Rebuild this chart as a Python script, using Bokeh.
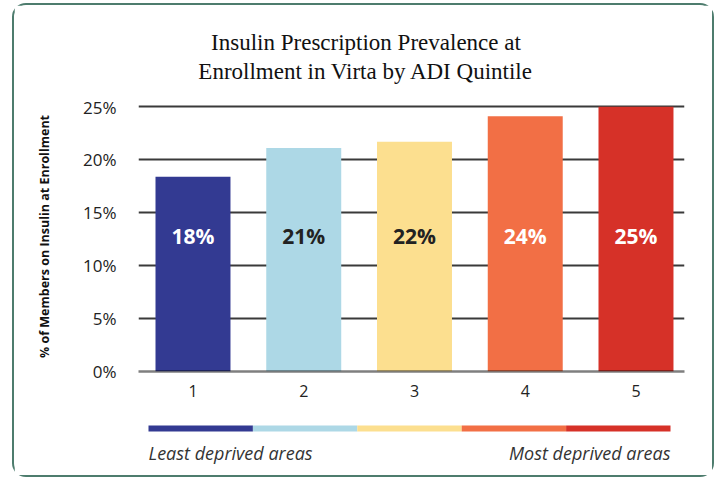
from bokeh.plotting import figure
from bokeh.models import Range1d, FixedTicker, ColumnDataSource
from bokeh.layouts import column
from bokeh.core.properties import value
from bokeh.embed import file_html
from bokeh.resources import INLINE

# ---- data ----
QUINTILES = [1, 2, 3, 4, 5]
PREVALENCE = [18.4, 21.1, 21.7, 24.1, 25.0]
BAR_LABELS = ["18%", "21%", "22%", "24%", "25%"]
BAR_COLORS = ["#333a92", "#add8e6", "#fcdf8f", "#f26f45", "#d63128"]
LABEL_COLORS = ["#ffffff", "#222222", "#222222", "#ffffff", "#ffffff"]
Y_TICKS = [0, 5, 10, 15, 20, 25]
Y_TICK_LABELS = ["0%", "5%", "10%", "15%", "20%", "25%"]
X_TICK_LABELS = ["1", "2", "3", "4", "5"]
TITLE_LINES = ["Insulin Prescription Prevalence at", "Enrollment in Virta by ADI Quintile"]
Y_LABEL = "% of Members on Insulin at Enrollment"
LEGEND_LEFT = "Least deprived areas"
LEGEND_RIGHT = "Most deprived areas"

SANS = "Open Sans"
SERIF = "Liberation Serif"
LABEL_Y = 12.8
W = 698

# strip/title ranges share the main plot's aligned frame (546 px wide)
STRIP_X = Range1d(-0.0958, 5.134)


def blank(height, y_end):
    f = figure(width=W, height=height, output_backend="svg", toolbar_location=None,
               x_range=STRIP_X, y_range=Range1d(y_end, 0),
               min_border=0, min_border_left=0, min_border_right=0,
               min_border_top=0, min_border_bottom=0)
    f.axis.visible = False
    f.grid.visible = False
    f.outline_line_color = None
    return f


# ---- title ----
head = blank(90, 90)
head.text(x=[2.083, 2.083], y=[36.7, 65.5], text=TITLE_LINES, text_align="center",
          text_baseline="alphabetic", text_font=value(SERIF), text_font_size="23px",
          text_color="#111111")

# ---- main chart ----
p = figure(width=W, height=310, output_backend="svg", toolbar_location=None,
           x_range=Range1d(0.508, 5.438), y_range=Range1d(0, 25.5),
           min_border_left=124, min_border_right=28, min_border_top=6, min_border_bottom=34)
p.outline_line_color = None
p.background_fill_color = "white"
p.border_fill_color = "white"

src = ColumnDataSource(dict(x=QUINTILES, top=PREVALENCE, color=BAR_COLORS,
                            label=BAR_LABELS, lcolor=LABEL_COLORS,
                            ly=[LABEL_Y] * len(QUINTILES)))
p.vbar(x="x", top="top", width=0.677, fill_color="color", line_color=None, source=src)
p.text(x="x", y="ly", text="label", text_color="lcolor", text_align="center",
       text_baseline="middle", text_font=value(SANS), text_font_style="bold",
       text_font_size="21px", source=src)

p.yaxis.ticker = FixedTicker(ticks=Y_TICKS)
p.yaxis.major_label_overrides = {t: l for t, l in zip(Y_TICKS, Y_TICK_LABELS)}
p.yaxis.axis_line_color = None
p.yaxis.major_tick_line_color = None
p.yaxis.minor_tick_line_color = None
p.yaxis.major_label_standoff = 16
p.yaxis.major_label_text_font = SANS
p.yaxis.major_label_text_font_size = "17px"
p.yaxis.major_label_text_color = "#222222"
p.yaxis.axis_label = Y_LABEL
p.yaxis.axis_label_text_font = SANS
p.yaxis.axis_label_text_font_style = "bold"
p.yaxis.axis_label_text_font_size = "12.5px"
p.yaxis.axis_label_text_color = "#111111"
p.yaxis.axis_label_standoff = 27

p.xaxis.ticker = FixedTicker(ticks=QUINTILES)
p.xaxis.major_label_overrides = {q: l for q, l in zip(QUINTILES, X_TICK_LABELS)}
p.xaxis.axis_line_color = "black"
p.xaxis.axis_line_alpha = 0.5
p.xaxis.axis_line_width = 2.5
p.xaxis.major_tick_line_color = None
p.xaxis.minor_tick_line_color = None
p.xaxis.major_label_standoff = 7
p.xaxis.major_label_text_font = SANS
p.xaxis.major_label_text_font_size = "16px"
p.xaxis.major_label_text_color = "#222222"

p.xgrid.grid_line_color = None
p.ygrid.ticker = FixedTicker(ticks=Y_TICKS[1:])
p.ygrid.grid_line_color = "#3a3a3a"
p.ygrid.grid_line_width = 2

# ---- colour strip legend ----
leg = blank(70, 70)
lsrc = ColumnDataSource(dict(left=[q - 1 for q in QUINTILES], right=QUINTILES, color=BAR_COLORS))
leg.quad(left="left", right="right", top=20, bottom=26, fill_color="color", line_color=None, source=lsrc)
leg.text(x=[0], y=[47], text=[LEGEND_LEFT], text_align="left", text_baseline="middle",
         text_font=value(SANS), text_font_style="italic", text_font_size="18px", text_color="#333333")
leg.text(x=[len(QUINTILES)], y=[47], text=[LEGEND_RIGHT], text_align="right", text_baseline="middle",
         text_font=value(SANS), text_font_style="italic", text_font_size="18px", text_color="#333333")

layout = column(head, p, leg, styles={"outline": "2px solid #4d7c6d", "outline-offset": "0px",
                                      "border-radius": "12px",
                                      "margin-top": "5px", "margin-left": "14px"})

open("out.html", "w").write(file_html(layout, INLINE))
